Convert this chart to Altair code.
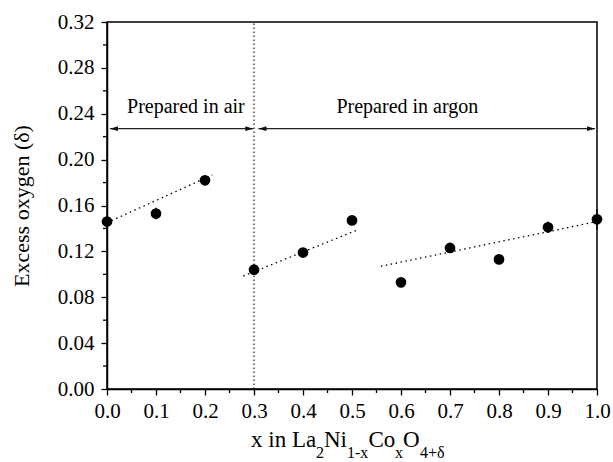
import altair as alt
import pandas as pd

FONT = "'Liberation Serif', 'Times New Roman', Times, serif"
W, H = 490, 367

# ---- data ----
x_vals = [0.0, 0.1, 0.2, 0.3, 0.4, 0.5, 0.6, 0.7, 0.8, 0.9, 1.0]
delta = [0.146, 0.153, 0.182, 0.104, 0.119, 0.147, 0.093, 0.123, 0.113, 0.141, 0.148]
err = [0.004, 0.005, 0.003, 0.003, 0.003, 0.004, 0.003, 0.003, 0.003, 0.005, 0.009]

fit_seg = ["air", "air", "argon1", "argon1", "argon2", "argon2"]
fit_x = [0.0, 0.215, 0.278, 0.513, 0.559, 1.0]
fit_y = [0.145, 0.1866, 0.0985, 0.139, 0.107, 0.146]

arrow_x1 = [0.006, 0.309]
arrow_x2 = [0.2986, 0.996]
arrow_y = [0.227, 0.227]

label_text = ["Prepared in air", "Prepared in argon"]
label_x = [0.161, 0.613]
label_y = [0.2406, 0.2406]

boundary_x = [0.3]

x_ticks = [round(i * 0.1, 1) for i in range(11)]
x_minor = [round(0.05 + i * 0.1, 2) for i in range(10)]
y_ticks = [round(i * 0.04, 2) for i in range(9)]
y_minor = [round(0.02 + i * 0.04, 2) for i in range(8)]

# x-axis title pieces: text, subscript flag, left offset (px from plot left)
title_parts = ["x in La", "2", "Ni", "1-x", "Co", "x", "O", "4+\u03b4"]
title_sub = [False, True, False, True, False, True, False, True]
title_off = [144, 209, 217, 240, 261.5, 288, 296, 313]

# ---- tables ----
pts = pd.DataFrame({"x": x_vals, "d": delta,
                    "lo": [d - e for d, e in zip(delta, err)],
                    "hi": [d + e for d, e in zip(delta, err)]})
fits = pd.DataFrame({"seg": fit_seg, "x": fit_x, "y": fit_y})
arrows = pd.DataFrame({"x1": arrow_x1, "x2": arrow_x2, "y": arrow_y})
heads_r = pd.DataFrame({"x": arrow_x2, "y": arrow_y})
heads_l = pd.DataFrame({"x": arrow_x1, "y": arrow_y})
labels = pd.DataFrame({"t": label_text, "x": label_x, "y": label_y})
vline = pd.DataFrame({"x": boundary_x, "y1": [0.0], "y2": [0.32]})

xs = alt.Scale(domain=[0, 1], nice=False, zero=False)
ys = alt.Scale(domain=[0, 0.32], nice=False, zero=False)

xaxis = alt.Axis(values=x_ticks, format=".1f", title=None, grid=False,
                 labelFont=FONT, labelFontSize=21, labelColor="black",
                 labelFlush=False, labelPadding=5,
                 tickSize=6, tickColor="black", tickWidth=1.3,
                 domainColor="black", domainWidth=1.5)
yaxis = alt.Axis(values=y_ticks, format=".2f", title="Excess oxygen (\u03b4)",
                 grid=False, labelFont=FONT, labelFontSize=21,
                 labelColor="black", labelFlush=False, labelPadding=7,
                 tickSize=6, tickColor="black", tickWidth=1.3,
                 domainColor="black", domainWidth=1.5,
                 titleFont=FONT, titleFontSize=22, titleFontWeight="normal",
                 titleColor="black", titlePadding=24)


def X(f):
    return alt.X(f, type="quantitative", scale=xs, axis=xaxis)


def Y(f):
    return alt.Y(f, type="quantitative", scale=ys, axis=yaxis)


vrule = alt.Chart(vline).mark_rule(color="black", strokeWidth=1.1,
                                   strokeDash=[1.5, 2.5]).encode(
    x=X("x"), y=Y("y1"), y2="y2")

fit_lines = alt.Chart(fits).mark_line(color="black", strokeWidth=1.3,
                                      strokeDash=[1.5, 3.5]).encode(
    x=X("x"), y=Y("y"), detail="seg:N")

arrow_lines = alt.Chart(arrows).mark_rule(color="#222", strokeWidth=1.3).encode(
    x=X("x1"), x2="x2", y=Y("y"))

head_r = alt.Chart(heads_r).mark_point(
    shape="M0,0 L-1,-0.3 L-1,0.3 Z", size=256, filled=True, color="#111",
    opacity=1).encode(x=X("x"), y=Y("y"))
head_l = alt.Chart(heads_l).mark_point(
    shape="M0,0 L1,-0.3 L1,0.3 Z", size=256, filled=True, color="#111",
    opacity=1).encode(x=X("x"), y=Y("y"))

ebars = alt.Chart(pts).mark_rule(color="black", strokeWidth=1.3).encode(
    x=X("x"), y=Y("lo"), y2="hi")

dots = alt.Chart(pts).mark_circle(size=115, color="black", opacity=1).encode(
    x=X("x"), y=Y("d"))

texts = alt.Chart(labels).mark_text(font=FONT, fontSize=20, color="black",
                                    align="center", baseline="alphabetic").encode(
    x=X("x"), y=Y("y"), text="t:N")

minor_x = alt.Chart(pd.DataFrame({"x": x_minor})).mark_rule(
    color="black", strokeWidth=1.3).encode(
    x=X("x"), y=alt.value(H), y2=alt.value(H + 4))

minor_y = alt.Chart(pd.DataFrame({"y": y_minor})).mark_rule(
    color="black", strokeWidth=1.3).encode(
    y=Y("y"), x=alt.value(0), x2=alt.value(-4))

title_layers = []
for t, sub, off in zip(title_parts, title_sub, title_off):
    title_layers.append(
        alt.Chart(pd.DataFrame({"t": [t]})).mark_text(
            font=FONT, fontSize=16 if sub else 23, color="black",
            align="left", baseline="alphabetic").encode(
            x=alt.value(off), y=alt.value(H + (69 if sub else 58)), text="t:N"))

chart = alt.layer(vrule, fit_lines, arrow_lines, head_r, head_l, ebars, dots,
                  texts, minor_x, minor_y, *title_layers).properties(
    width=W, height=H,
    autosize=alt.AutoSizeParams(type="none"),
    padding={"left": 107, "top": 22, "right": 16, "bottom": 73},
    background="white",
).configure_view(stroke="black", strokeWidth=1.5)

chart.save("out.html", embed_options={"renderer": "svg", "actions": False})
